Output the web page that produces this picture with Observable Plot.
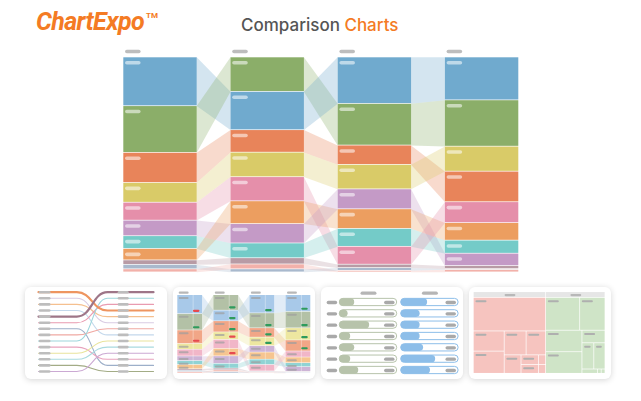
<!DOCTYPE html>
<html><head><meta charset="utf-8">
<script src="https://cdn.jsdelivr.net/npm/d3@7"></script>
<script src="https://cdn.jsdelivr.net/npm/@observablehq/plot@0.6"></script>
<style>
html,body{margin:0;padding:0;background:#fff}
#page{position:relative;width:641px;height:401px;overflow:hidden;background:#fff}
#main{position:absolute;left:0;top:0}
#logo{position:absolute;left:36px;top:7px;font-family:Roboto,sans-serif;font-style:italic;font-weight:700;font-size:25px;line-height:30px;color:#F47B24;letter-spacing:-0.6px;white-space:nowrap}
#logo .tm{font-size:8px;position:relative;top:-12px;left:2px;font-style:normal;letter-spacing:0}
#title{position:absolute;left:241px;top:13px;font-family:Inter,sans-serif;font-weight:500;font-size:17px;line-height:24px;white-space:nowrap;color:#555}
#title .hl{color:#F47B24}
.card{position:absolute;top:287px;width:142px;height:92px;background:#fff;border-radius:6px;box-shadow:0 1px 6px rgba(0,0,0,.17);overflow:hidden}
.card svg{position:absolute;left:0;top:0}
</style></head>
<body><div id="page">
<div id="main"></div>
<div id="logo">ChartExpo<span class="tm">TM</span></div>
<div id="title">Comparison <span class="hl">Charts</span></div>
<div class="card" id="c1" style="left:25px"></div>
<div class="card" id="c2" style="left:173px"></div>
<div class="card" id="c3" style="left:321px"></div>
<div class="card" id="c4" style="left:469px"></div>
</div>
<script>
// ---------- DATA ----------
const categories = ["Blue","Green","Orange","Yellow","Pink","Purple","Teal","Amber","Mauve","Slate","Salmon"];
const mainColors = ["#70AACE","#8BAE69","#E8845A","#D9CB68","#E58FAA","#C49AC6","#74CBC8","#EC9E60","#B89BA5","#A9B9CD","#F2B1AA"];
const miniColors = ["#A8C9E9","#B3C1A6","#F1A687","#EDE7A0","#F1B6C8","#CDB4D6","#90D3D4","#F6C590","#C6AEB8","#B9C6D6","#F5C0B8"];
const periods = ["P1","P2","P3","P4"];
const periodOrder = [
  ["Blue","Green","Orange","Yellow","Pink","Purple","Teal","Amber","Mauve","Slate","Salmon"],
  ["Green","Blue","Orange","Yellow","Pink","Amber","Purple","Teal","Mauve","Salmon","Slate"],
  ["Blue","Green","Orange","Yellow","Purple","Amber","Teal","Pink","Mauve","Slate","Salmon"],
  ["Blue","Green","Yellow","Orange","Pink","Amber","Teal","Purple","Mauve","Slate","Salmon"]
];
const mainValues = [
  [47, 45, 29, 19, 17.3, 15, 12.3, 11, 4.3, 4.3, 3],
  [33.3, 37, 21.7, 23.7, 23.3, 22, 18.7, 14.3, 6, 4.7, 3],
  [45, 40.3, 18.7, 23.7, 19.3, 19, 17.3, 17.3, 3.3, 2.7, 1.5],
  [41.7, 45, 24.3, 29.7, 20.3, 17, 12.7, 12, 3, 0.8, 2.4]
];
const miniValues = [
  [53, 46, 38, 16, 19, 13, 11, 12, 4, 4, 4],
  [43, 30, 31, 21, 25, 21, 21, 13, 5, 5, 4],
  [51, 42, 26, 24, 18, 20, 15, 18, 2, 2, 2],
  [47, 46, 34, 31, 17, 16, 11, 13, 2, 2, 1]
];
const miniChange = [
  [-1, 1, -1, 0, 0, 0, 0, 0, 0, 0, 0],
  [1, 1, 1, -1, 0, -1, 0, 0, 0, 0, 0],
  [1, 1, 1, 1, 0, 0, 0, 0, 0, 0, 0],
  [1, 1, 1, 1, 0, 0, 0, 0, 0, 0, 0]
];
// slope thumbnail
const slopeSeries = ["S1","S2","S3","S4","S5","S6","S7","S8","S9","S10","S11","S12","S13","S14"];
const slopeLeftRank = [0,1,2,3,4,5,6,7,8,9,10,11,12,13];
const slopeRightRank = [3,5,4,7,0,2,12,6,1,11,8,9,13,10];
const slopeColors = ["#EE9560","#D9CBE3","#F5C08F","#C3D8EC","#9E7688","#E99BB0","#9DAFC9","#F0A9A3","#9DD6DC","#E8A3BD","#E9E49C","#A9DADF","#A3AC86","#CBA9D3"];
const slopeHighlighted = ["S1","S5"];
// progress bar thumbnail
const barGroups = ["Before","After"];
const groupColors = ["#B7C3AB","#8DBEE9"];
const groupShares = [
  [0.26, 0.145, 0.52, 0.19, 0.26, 0.19, 0.33],
  [0.46, 0.33, 0.33, 0.33, 0.39, 0.60, 0.51]
];
// treemap thumbnail
const treeGroups = ["Loss","Gain"];
const treeColors = ["#F6C4BF","#CFE4C7"];
const lossTree = [21070, [[5400, 5940], [[4550, 4060], [2690, [1456, 1352], [588, 546]]]]];
const gainTree = [[9700, 7200], [[6780, 6780], [2520, [2700, 2540], [585, 130, 143]]]];

// ---------- HELPERS ----------
const BAR_W = 0.685;
function stackSegments(order, values, change) {
  const segs = [];
  order.forEach((cats, i) => {
    const total = d3.sum(values[i]);
    let acc = 0;
    cats.forEach((c, j) => {
      const v = values[i][j] / total;
      segs.push({i, cat: c, x0: i, x1: i + BAR_W, y0: acc, y1: acc + v, v, change: change ? change[i][j] : 0});
      acc += v;
    });
  });
  return segs;
}
function ribbonData(segs) {
  const out = [];
  const n = d3.max(segs, d => d.i) + 1;
  for (let i = 0; i < n - 1; i++) {
    for (const s of segs.filter(d => d.i === i)) {
      const t = segs.find(d => d.i === i + 1 && d.cat === s.cat);
      if (!t) continue;
      const id = s.cat + "-" + i;
      out.push({id, cat: s.cat, x: s.x1, a: s.y0, b: s.y1});
      out.push({id, cat: s.cat, x: t.x0, a: t.y0, b: t.y1});
    }
  }
  return out;
}
const pill = (o) => Object.assign({strokeLinecap: "round"}, o);
const bg = {background: "transparent", overflow: "visible"};
const heads = periods.map((p, i) => ({p, i}));

// ---------- MAIN CHART ----------
const segs = stackSegments(periodOrder, mainValues);
document.getElementById("main").append(Plot.plot({
  width: 641, height: 282, axis: null, style: bg,
  x: {domain: [0, periods.length - 1 + BAR_W], range: [123.3, 518.3]},
  y: {domain: [0, 1], range: [57.3, 272.3]},
  color: {domain: categories, range: mainColors},
  marks: [
    Plot.area(ribbonData(segs), {x1: "x", y1: "a", y2: "b", z: "id", fill: "cat", fillOpacity: 0.3, curve: "linear"}),
    Plot.rect(segs, {x1: "x0", x2: "x1", y1: "y0", y2: "y1", fill: "cat", insetBottom: 0.7}),
    Plot.link(segs.filter(d => d.v > 0.035), pill({x1: d => d.x0 + 0.028, x2: d => d.x0 + 0.14, y1: "y0", y2: "y0", dy: 5, stroke: "#fff", strokeOpacity: 0.55, strokeWidth: 3.6})),
    Plot.link(heads, pill({x1: d => d.i + 0.028, x2: d => d.i + 0.14, y1: () => 0, y2: () => 0, dy: -6.3, stroke: "#BDBDBD", strokeWidth: 3.6}))
  ]
}));

// ---------- THUMB 1: slope chart ----------
const slopeStages = [0, 1, 1.8, 3];
const slopeData = slopeSeries.flatMap((s, k) => slopeStages.map((x, j) => ({s, x, r: j < 2 ? slopeLeftRank[k] : slopeRightRank[k]})));
const isHi = d => slopeHighlighted.includes(d.s);
document.getElementById("c1").append(Plot.plot({
  width: 142, height: 92, axis: null, style: bg,
  x: {domain: [0, 3], range: [13, 128]},
  y: {domain: [0, 13], range: [4.7, 84]},
  color: {domain: slopeSeries, range: slopeColors},
  marks: [
    Plot.line(slopeData.filter(d => !isHi(d)), {x: "x", y: "r", z: "s", stroke: "s", strokeWidth: 1.1, curve: "bump-x"}),
    Plot.line(slopeData.filter(isHi), {x: "x", y: "r", z: "s", stroke: "s", strokeWidth: 2.2, curve: "bump-x"}),
    Plot.link(slopeLeftRank, pill({x1: () => 0.04, x2: () => 0.28, y1: d => d, y2: d => d, stroke: "#BDBDBD", strokeWidth: 2.6})),
    Plot.link(slopeRightRank, pill({x1: () => 2.1, x2: () => 2.32, y1: d => d, y2: d => d, stroke: "#BDBDBD", strokeWidth: 2.6}))
  ]
}));

// ---------- THUMB 2: mini ranked stacks ----------
const miniSegs = stackSegments(periodOrder, miniValues, miniChange);
document.getElementById("c2").append(Plot.plot({
  width: 142, height: 92, axis: null, style: bg,
  x: {domain: [0, periods.length - 1 + BAR_W], range: [4.3, 137.3]},
  y: {domain: [0, 1], range: [8, 86.3]},
  color: {domain: categories, range: miniColors},
  marks: [
    Plot.area(ribbonData(miniSegs), {x1: "x", y1: "a", y2: "b", z: "id", fill: "cat", fillOpacity: 0.35, curve: "linear"}),
    Plot.rect(miniSegs, {x1: "x0", x2: "x1", y1: "y0", y2: "y1", fill: "cat", insetBottom: 0.5}),
    Plot.ruleX(miniSegs.filter(d => d.v > 0.04), {x: d => d.x0 + BAR_W * 0.62, y1: "y0", y2: "y1", stroke: "#fff", strokeOpacity: 0.6, strokeWidth: 0.6}),
    Plot.link(miniSegs.filter(d => d.v > 0.04), pill({x1: d => d.x0 + 0.055, x2: d => d.x0 + 0.27, y1: "y0", y2: "y0", dy: 2.4, stroke: "#9E9E9E", strokeOpacity: 0.7, strokeWidth: 2})),
    Plot.link(miniSegs.filter(d => d.change > 0), pill({x1: d => d.x0 + 0.45, x2: d => d.x0 + 0.57, y1: "y1", y2: "y1", dy: -3.5, stroke: "#2E9B5C", strokeWidth: 2.2})),
    Plot.link(miniSegs.filter(d => d.change < 0), pill({x1: d => d.x0 + 0.45, x2: d => d.x0 + 0.57, y1: "y1", y2: "y1", dy: -3.5, stroke: "#E64A4F", strokeWidth: 2.2})),
    Plot.link(heads, pill({x1: d => d.i + 0.055, x2: d => d.i + 0.27, y1: () => 0, y2: () => 0, dy: -2.8, stroke: "#B8B8B8", strokeWidth: 2.2}))
  ]
}));

// ---------- THUMB 3: progress bars ----------
const GROUP_OFF = [0, 1.07];
const barRows = groupShares.flatMap((arr, g) => arr.map((share, r) => ({g: barGroups[g], r, off: GROUP_OFF[g], share})));
const rowIds = groupShares[0].map((_, r) => r);
const halfH = 0.32;
document.getElementById("c3").append(Plot.plot({
  width: 142, height: 92, axis: null, style: bg,
  x: {domain: [0, 1], range: [18.3, 75.7]},
  y: {domain: [0, rowIds.length - 1], range: [15, 83]},
  color: {domain: barGroups, range: groupColors},
  marks: [
    Plot.rect(barRows, {x1: "off", x2: d => d.off + 1, y1: d => d.r - halfH, y2: d => d.r + halfH, fill: "#fff", stroke: "g", strokeWidth: 1, rx: 3.6}),
    Plot.rect(barRows, {x1: "off", x2: d => d.off + d.share, y1: d => d.r - halfH, y2: d => d.r + halfH, fill: "g", rx: 3.6}),
    Plot.link(barRows, pill({x1: d => d.off + 0.8, x2: d => d.off + 0.925, y1: "r", y2: "r", stroke: "#A9A9A9", strokeWidth: 3.3})),
    Plot.link(rowIds, pill({x1: () => -0.2, x2: () => -0.075, y1: d => d, y2: d => d, stroke: "#A9A9A9", strokeWidth: 3.3})),
    Plot.link(GROUP_OFF, pill({x1: d => d + 0.39, x2: d => d + 0.61, y1: () => -0.82, y2: () => -0.82, stroke: "#B5B5B5", strokeWidth: 3.3}))
  ]
}));

// ---------- THUMB 4: treemap ----------
const toNode = n => Array.isArray(n) ? {children: n.map(toNode)} : {value: n};
const root = d3.hierarchy({children: [lossTree, gainTree].map((t, k) => Object.assign({name: treeGroups[k]}, toNode(t)))})
  .sum(d => d.value || 0);
const TM_W = 395, TM_H = 228, HEAD = 17;
d3.treemap().tile(d3.treemapSliceDice).size([TM_W, TM_H]).round(false)(root);
const tGroups = root.children.map(g => ({name: g.data.name, x0: g.x0, x1: g.x1}));
const tCells = root.leaves().map(n => ({group: n.ancestors().at(-2).data.name, x0: n.x0, x1: n.x1, y0: n.y0, y1: n.y1}));
const labelled = tCells.filter(d => d.x1 - d.x0 > 30 && d.y1 - d.y0 > 24);
document.getElementById("c4").append(Plot.plot({
  width: 142, height: 92, axis: null, style: bg,
  x: {domain: [0, TM_W], range: [4.3, 136]},
  y: {domain: [-HEAD, TM_H], range: [4.7, 86.3]},
  color: {domain: treeGroups, range: treeColors},
  marks: [
    Plot.rect(tGroups, {x1: "x0", x2: "x1", y1: () => -HEAD, y2: () => 0, fill: "#E6E6E6", inset: 0.35}),
    Plot.rect(tCells, {x1: "x0", x2: "x1", y1: "y0", y2: "y1", fill: "group", inset: 0.35}),
    Plot.link(tGroups, pill({x1: d => (d.x0 + d.x1) / 2 - 13, x2: d => (d.x0 + d.x1) / 2 + 13, y1: () => -HEAD / 2, y2: () => -HEAD / 2, stroke: "#B8B8B8", strokeWidth: 2.2})),
    Plot.link(labelled, pill({x1: d => d.x0 + 8, x2: d => d.x0 + Math.min(35, d.x1 - d.x0 - 14), y1: d => d.y0 + 10, y2: d => d.y0 + 10, stroke: "#AFAFAF", strokeWidth: 2}))
  ]
}));
</script>
</body></html>
